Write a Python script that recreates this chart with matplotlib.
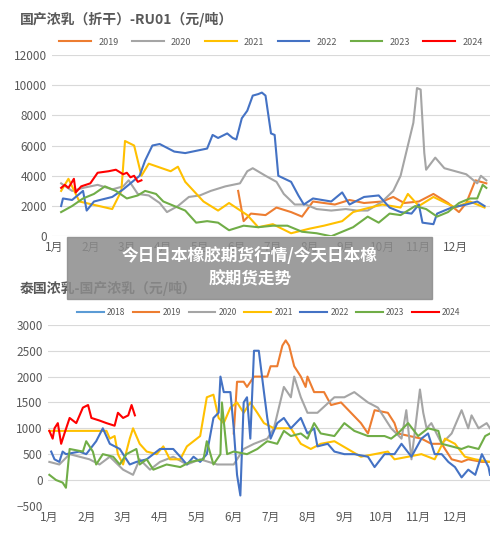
import matplotlib
matplotlib.use("Agg")
import matplotlib.pyplot as plt
from matplotlib.patches import Rectangle

plt.rcParams['font.family'] = ['Noto Sans CJK SC', 'DejaVu Sans']

months = [f"{i}月" for i in range(1, 13)]
C = {"2018": "#5b9bd5", "2019": "#ed7d31", "2020": "#a5a5a5", "2021": "#ffc000",
     "2022": "#4472c4", "2023": "#70ad47", "2024": "#ff0000"}

# ---- top chart: 国产浓乳(折干)-RU01 ----
top_2019_x = [6.05,6.2,6.4,6.8,7.1,7.5,7.8,8.1,8.7,9.1,9.5,10.0,10.3,10.6,11.0,11.4,11.8,12.1,12.3,12.55,12.85]
top_2019_y = [3000,1000,1500,1400,1900,1600,1300,2300,2100,2400,2200,2300,2600,2200,2300,2800,2200,1600,2200,3700,3500]
top_2020_x = [1.2,1.5,1.8,2.2,2.6,2.9,3.05,3.3,3.6,3.9,4.1,4.4,4.7,5.0,5.3,5.7,6.1,6.3,6.45,6.8,7.1,7.3,7.6,7.9,8.2,8.6,9.0,9.3,9.6,10.0,10.3,10.5,10.6,10.75,10.85,10.95,11.05,11.15,11.2,11.45,11.7,12.0,12.3,12.6,12.7,12.85]
top_2020_y = [3500,3000,3200,3400,3100,3300,3700,2800,2700,2200,1600,2000,2600,2700,3000,3300,3500,4300,4500,4000,3600,2800,2100,2100,1800,1700,1800,1700,1700,2300,3000,4000,5000,6500,7500,9800,9700,5500,4400,5200,4500,4300,4100,3500,4000,3700]
top_2021_x = [1.2,1.4,1.7,2.6,2.85,2.95,3.2,3.4,3.6,4.2,4.4,4.6,5.1,5.5,5.8,6.3,6.6,7.0,7.5,8.0,8.4,8.9,9.2,9.5,10.0,10.5,10.7,11.0,11.4,12.0,12.4,12.8]
top_2021_y = [3000,3800,2300,1800,3000,6300,6000,4000,4800,4300,4600,3600,2300,1700,2200,1400,600,800,200,500,700,1000,1600,1800,2100,1900,2800,2000,2600,1900,2300,1900]
top_2022_x = [1.2,1.25,1.5,1.8,1.9,2.1,2.6,2.9,3.2,3.35,3.5,3.7,3.9,4.3,4.6,5.0,5.2,5.35,5.5,5.75,5.9,6.0,6.15,6.3,6.45,6.6,6.7,6.8,6.95,7.05,7.15,7.5,7.7,7.85,8.1,8.6,8.9,9.1,9.5,9.9,10.2,10.5,10.8,11.0,11.1,11.4,11.5,11.9,12.3,12.6,12.8]
top_2022_y = [2000,2500,2400,3000,1700,2300,2600,3100,3700,4000,5000,6000,6100,5600,5500,5700,5800,6700,6500,6800,6500,6400,7800,8300,9300,9400,9500,9300,6800,6700,4000,3600,2700,2100,2500,2300,2900,2100,2600,2700,1900,1600,1500,2100,900,800,1500,1900,2100,2300,2000]
top_2023_x = [1.2,1.5,1.8,2.1,2.4,2.7,3.0,3.3,3.5,3.8,4.0,4.3,4.6,4.9,5.2,5.5,5.8,6.2,6.6,7.0,7.4,7.8,8.2,8.6,8.9,9.2,9.6,9.9,10.2,10.5,10.9,11.2,11.5,11.8,12.1,12.4,12.6,12.75,12.85]
top_2023_y = [1600,2000,2500,2800,3300,3000,2500,2700,3000,2800,2300,2000,1700,900,1000,900,400,700,600,700,700,300,200,0,300,600,1300,900,1500,1400,2000,1800,1300,1600,2200,2500,2500,3400,3200]
top_2024_x = [1.2,1.3,1.4,1.55,1.6,1.75,2.0,2.2,2.5,2.7,2.9,3.0,3.1,3.2,3.3,3.4]
top_2024_y = [3200,3400,3200,3800,2900,3300,3500,4200,4300,4400,4100,4200,3900,4000,3600,3700]

# ---- bottom chart: 泰国浓乳-国产浓乳 ----
bot_2019_x = [6.0,6.09,6.27,6.36,6.55,6.91,7.0,7.18,7.32,7.41,7.5,7.64,7.82,7.95,8.0,8.18,8.45,8.64,8.91,9.18,9.45,9.64,9.82,10.18,10.36,10.45,11.09,11.36,11.64,11.91,12.18,12.36,12.73,12.95]
bot_2019_y = [900,1900,1900,1800,2000,2000,2200,2200,2600,2700,2600,2200,2000,1800,2000,1700,1700,1450,1500,1300,1100,900,1350,1300,1100,900,800,700,700,400,350,400,350,350]
bot_2020_x = [1.0,1.27,1.55,2.09,2.36,2.64,3.0,3.27,3.45,3.73,4.0,4.36,4.73,5.09,5.55,6.0,6.27,6.55,6.91,7.09,7.36,7.55,7.64,7.82,8.0,8.27,8.73,9.0,9.27,9.64,9.91,10.09,10.27,10.55,10.68,10.82,11.05,11.14,11.23,11.36,11.64,11.91,12.18,12.36,12.45,12.64,12.86,12.95]
bot_2020_y = [350,300,500,400,300,450,200,100,400,200,350,450,300,400,300,300,600,700,800,1000,1800,1600,2000,1600,1300,1300,1600,1600,1700,1500,1400,1200,1000,800,1350,400,1750,1300,1000,1100,700,900,1350,1000,1250,1000,1100,1000]
bot_2021_x = [1.0,2.55,2.64,2.77,2.86,3.0,3.18,3.27,3.45,3.64,3.91,4.09,4.27,4.55,4.73,5.09,5.27,5.45,5.59,5.73,5.91,6.09,6.27,6.45,6.64,6.82,7.09,7.55,7.82,8.09,8.36,8.73,9.09,9.45,9.82,10.18,10.36,10.73,11.09,11.45,11.73,12.0,12.27,12.55,12.95]
bot_2021_y = [950,950,800,850,500,300,800,1000,700,550,500,650,400,400,650,850,1600,1650,1200,1100,1400,1500,1300,1500,1300,1100,1000,1000,700,600,700,750,600,450,500,550,400,450,500,400,800,700,450,400,350]
bot_2022_x = [1.05,1.14,1.27,1.36,1.45,1.82,2.0,2.27,2.45,2.64,2.91,3.0,3.18,3.36,3.64,4.0,4.36,4.55,4.73,4.91,5.09,5.27,5.45,5.59,5.64,5.73,5.91,6.0,6.09,6.18,6.27,6.36,6.45,6.55,6.68,6.82,6.91,7.0,7.18,7.36,7.55,7.82,8.0,8.18,8.27,8.55,8.73,9.0,9.27,9.64,9.82,10.09,10.36,10.55,10.82,11.09,11.27,11.45,11.64,11.82,12.0,12.18,12.36,12.55,12.73,12.91,12.95]
bot_2022_y = [550,400,350,550,500,550,500,750,1000,700,600,500,300,350,400,600,600,450,300,450,350,500,1200,1300,2000,1700,1700,1000,100,-300,1500,1600,800,2500,2500,1700,1200,800,1100,1200,1000,1200,900,1000,650,700,550,500,500,450,250,500,500,700,450,800,900,500,500,350,250,50,200,100,500,250,100]
bot_2023_x = [1.0,1.18,1.36,1.45,1.55,1.91,2.0,2.18,2.27,2.45,2.73,2.91,3.09,3.36,3.45,3.64,3.82,4.18,4.55,4.82,5.18,5.27,5.45,5.64,5.68,5.82,6.0,6.36,6.64,6.91,7.18,7.36,7.55,7.82,8.0,8.18,8.36,8.73,9.0,9.27,9.64,10.09,10.27,10.45,10.73,11.0,11.27,11.55,11.64,11.91,12.18,12.36,12.64,12.82,12.95]
bot_2023_y = [100,0,-50,-150,600,550,750,550,300,500,450,300,500,600,300,400,200,300,250,350,400,750,300,500,1500,500,550,500,600,750,700,950,850,900,800,1100,900,850,1100,950,850,850,800,900,1100,850,1000,950,700,650,600,650,600,850,900]
bot_2024_x = [1.0,1.09,1.14,1.23,1.32,1.41,1.55,1.73,1.91,2.05,2.14,2.36,2.55,2.77,2.86,3.0,3.14,3.23,3.32]
bot_2024_y = [950,800,1000,1100,700,900,1200,1100,1400,1450,1200,1150,1100,1050,1300,1200,1250,1450,1250]

fig = plt.figure(figsize=(5.0, 5.37), dpi=100)
tc = "#595959"

def style(ax, yticks):
    for s in ax.spines.values():
        s.set_visible(False)
    ax.set_yticks(yticks)
    ax.grid(axis='y', color='#d9d9d9', lw=0.8)
    ax.set_axisbelow(True)
    ax.tick_params(length=0, labelsize=8.5, colors=tc)
    ax.set_xticks(range(1, 13))
    ax.set_xticklabels(months)
    ax.set_xlim(0.95, 12.95)

ax1 = fig.add_axes([0.104, 0.56, 0.876, 0.338])
for yr, x, y in [("2019", top_2019_x, top_2019_y), ("2020", top_2020_x, top_2020_y),
                 ("2021", top_2021_x, top_2021_y), ("2022", top_2022_x, top_2022_y),
                 ("2023", top_2023_x, top_2023_y), ("2024", top_2024_x, top_2024_y)]:
    ax1.plot(x, y, color=C[yr], lw=1.5, label=yr)
style(ax1, range(0, 12001, 2000))
ax1.set_ylim(0, 12000)
ax1.legend(loc='lower center', bbox_to_anchor=(0.5, 1.0), ncol=6, frameon=False,
           fontsize=6.5, handlelength=3.5, columnspacing=1.5, labelcolor=tc)
fig.text(0.04, 0.955, "国产浓乳（折干）-RU01（元/吨）", fontsize=10, fontweight='bold', color=tc)

ax2 = fig.add_axes([0.095, 0.058, 0.885, 0.337])
for yr, x, y in [("2019", bot_2019_x, bot_2019_y), ("2020", bot_2020_x, bot_2020_y),
                 ("2021", bot_2021_x, bot_2021_y), ("2022", bot_2022_x, bot_2022_y),
                 ("2023", bot_2023_x, bot_2023_y), ("2024", bot_2024_x, bot_2024_y)]:
    ax2.plot(x, y, color=C[yr], lw=1.5, label=yr)
ax2.plot([], [], color=C["2018"], lw=1.5, label="2018")
style(ax2, range(-500, 3001, 500))
ax2.set_ylim(-500, 3000)
h, l = ax2.get_legend_handles_labels()
h = [h[-1]] + h[:-1]; l = [l[-1]] + l[:-1]
ax2.legend(h, l, loc='lower center', bbox_to_anchor=(0.5, 1.0), ncol=7, frameon=False,
           fontsize=6, handlelength=3.2, handletextpad=0.4, columnspacing=0.9, labelcolor=tc)
fig.text(0.04, 0.455, "泰国浓乳-国产浓乳（元/吨）", fontsize=10, fontweight='bold', color=tc)

fig.patches.append(Rectangle((0.134, 0.443), 0.73, 0.116, transform=fig.transFigure,
                             color='#8c8c8c', alpha=0.85, zorder=5))
fig.text(0.5, 0.501, "今日日本橡胶期货行情/今天日本橡\n胶期货走势", ha='center', va='center',
         fontsize=12, fontweight='bold', color='white', zorder=6, linespacing=1.4)

fig.savefig("out.png", dpi=100)
